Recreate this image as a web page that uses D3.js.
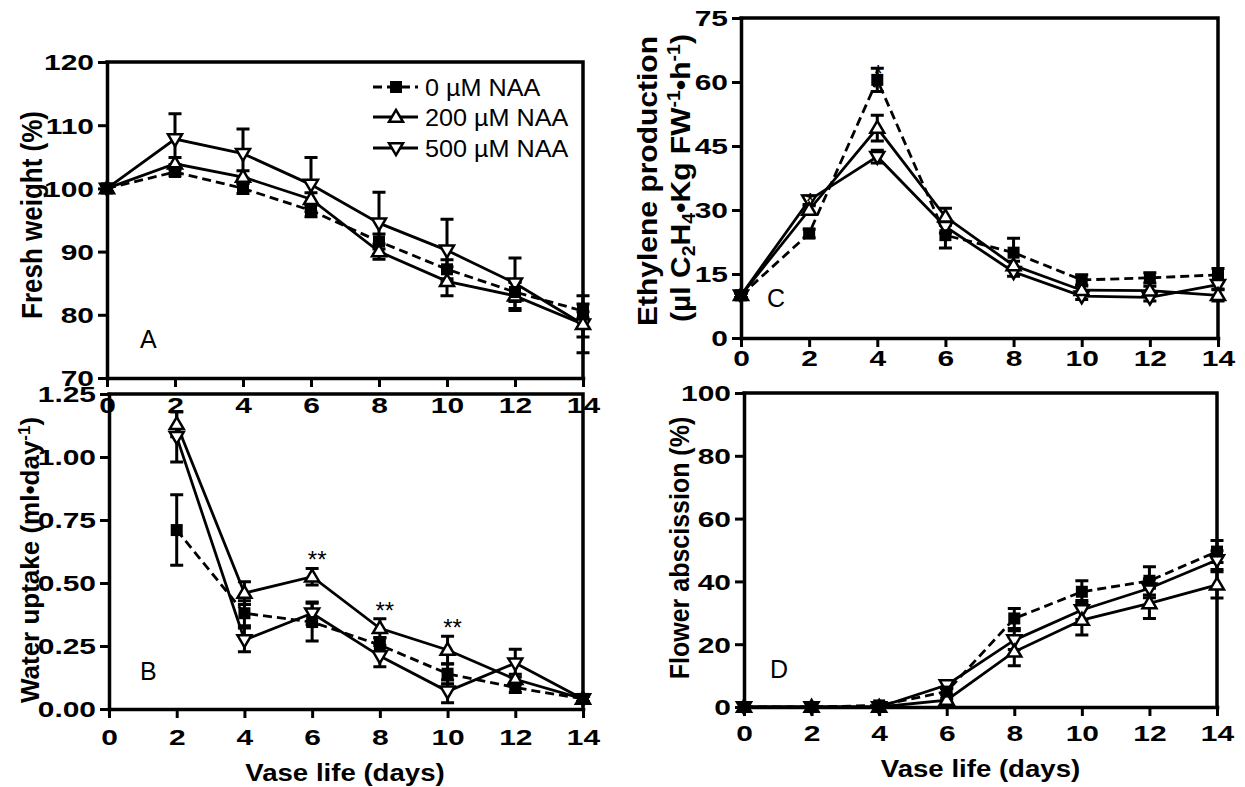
<!DOCTYPE html>
<html><head><meta charset="utf-8">
<script src="https://cdn.jsdelivr.net/npm/d3@7"></script>
<style>
body{margin:0;background:#fff;}
svg{display:block;}
</style></head><body>
<svg id="chart" width="1245" height="787"></svg>
<script>
// ---------- data ----------
const days = [0, 2, 4, 6, 8, 10, 12, 14];
const xTicks = [0, 2, 4, 6, 8, 10, 12, 14];
const seriesNames = ["0 \u00b5M NAA", "200 \u00b5M NAA", "500 \u00b5M NAA"];

// A: fresh weight (%)
const fw0 = [100, 102.6, 100, 96.5, 91.6, 87.2, 83.6, 80.6];
const fw0Err = [0.5, 0.6, 0.8, 1, 1.2, 1.5, 1.5, 1.1];
const fw200 = [100, 103.9, 101.8, 98.3, 90.0, 85.3, 83.0, 78.5];
const fw200Err = [0.5, 1, 1, 1, 1.2, 2.3, 2.3, 4.5];
const fw500 = [100, 107.8, 105.5, 100.6, 94.5, 90.2, 85.0, 78.5];
const fw500Err = [0.5, 4, 3.9, 4.3, 4.9, 4.9, 4.0, 2];
const fwTicks = [70, 80, 90, 100, 110, 120];

// B: water uptake (ml/day)
const wu0 = [null, 0.71, 0.38, 0.345, 0.254, 0.14, 0.085, 0.04];
const wu0Err = [null, 0.14, 0.05, 0.075, 0.03, 0.04, 0.02, 0.01];
const wu200 = [null, 1.13, 0.46, 0.525, 0.32, 0.234, 0.118, 0.04];
const wu200Err = [null, 0.05, 0.045, 0.033, 0.038, 0.055, 0.02, 0.01];
const wu500 = [null, 1.08, 0.274, 0.38, 0.21, 0.07, 0.182, 0.04];
const wu500Err = [null, 0.1, 0.047, 0.045, 0.042, 0.045, 0.055, 0.01];
const wuTicks = [0, 0.25, 0.5, 0.75, 1.0, 1.25];
const wuSigDays = [6, 8, 10];
const wuSigLabels = ["**", "**", "**"];

// C: ethylene production
const et0 = [10, 24.5, 60.5, 24.1, 20, 13.6, 14.1, 14.8];
const et0Err = [0.5, 1, 2.7, 3, 3.4, 1.2, 1.2, 1.5];
const et200 = [10, 30, 49.2, 28.4, 17, 11.2, 11.1, 10];
const et200Err = [0.5, 1, 3, 2, 1, 1, 1, 1.3];
const et500 = [10, 32.3, 42.5, 26.1, 15.5, 9.8, 9.5, 12.5];
const et500Err = [0.5, 1, 1.5, 1.5, 1, 0.8, 0.8, 1];
const etTicks = [0, 15, 30, 45, 60, 75];
const etSigDays = [2, 4];
const etSigLabels = ["*", "*"];

// D: flower abscission (%)
const ab0 = [0, 0, 0.5, 4.9, 28.2, 36.7, 40.2, 49.5];
const ab0Err = [0, 0, 0.5, 1, 3.2, 3.5, 4.5, 3.5];
const ab200 = [0, 0, 0, 2.2, 17.6, 27.7, 33, 38.9];
const ab200Err = [0, 0, 0, 0.5, 4.5, 4.8, 4.8, 4.2];
const ab500 = [0, 0, 0, 7, 21.3, 30.9, 37.8, 46.8];
const ab500Err = [0, 0, 0, 1, 3, 3, 3, 3];
const abTicks = [0, 20, 40, 60, 80, 100];

// ---------- drawing ----------
const FONT = "'Liberation Sans', Arial, Helvetica, sans-serif";
const svg = d3.select("#chart");

function trianglePath(up, r) {
  const h = r * 1.7;
  return up
    ? `M0,${-h * 0.6}L${r},${h * 0.4}L${-r},${h * 0.4}Z`
    : `M0,${h * 0.6}L${r},${-h * 0.4}L${-r},${-h * 0.4}Z`;
}

function panel(cfg) {
  const x = d3.scaleLinear().domain([0, 14]).range([cfg.x0, cfg.x1]);
  const y = d3.scaleLinear().domain(cfg.yDomain).range([cfg.yBot, cfg.yTop]);
  const g = svg.append("g");

  const ax = g.append("g").attr("transform", `translate(0,${cfg.yBot})`)
    .call(d3.axisBottom(x).tickValues(xTicks).tickSize(9).tickSizeOuter(0).tickFormat(d3.format("d")));
  const ay = g.append("g").attr("transform", `translate(${cfg.x0},0)`)
    .call(d3.axisLeft(y).tickValues(cfg.ticks).tickSize(9).tickSizeOuter(0).tickFormat(cfg.fmt));
  [ax, ay].forEach(a => {
    a.select(".domain").attr("stroke", "#000").attr("stroke-width", 3.5).attr("stroke-linecap", "square");
    a.selectAll(".tick line").attr("stroke", "#000").attr("stroke-width", 3);
    a.selectAll("text").attr("font-family", FONT).attr("font-weight", "bold")
      .attr("font-size", 22).attr("fill", "#000");
  });
  const sx = 1.36;
  ax.selectAll(".tick text").attr("dy", null).attr("y", cfg.xLabOff).attr("transform", `scale(${sx},1)`);
  ay.selectAll(".tick text").attr("dy", "0.36em").attr("x", -13 / sx).attr("transform", `scale(${sx},1)`);

  g.append("path").attr("d", `M${cfg.x0},${cfg.yTop}H${cfg.x1}V${cfg.yBot}`)
    .attr("fill", "none").attr("stroke", "#000").attr("stroke-width", 3.5).attr("stroke-linecap", "square");

  const series = cfg.series.map(s => ({
    ...s,
    pts: days.map((d, j) => ({ d, v: s.vals[j], e: s.errs[j] })).filter(p => p.v != null)
  }));
  const line = d3.line().x(p => x(p.d)).y(p => y(p.v));
  series.forEach(s => {
    g.append("path").attr("d", line(s.pts)).attr("fill", "none").attr("stroke", "#000")
      .attr("stroke-width", 2.8).attr("stroke-dasharray", s.dash ? "9,5" : null);
  });
  series.forEach(s => {
    s.pts.filter(p => p.e > 0).forEach(p => {
      const cx = x(p.d), y1 = y(p.v + p.e), y2 = y(p.v - p.e);
      g.append("path").attr("d", `M${cx},${y1}V${y2}M${cx - 6.5},${y1}H${cx + 6.5}M${cx - 6.5},${y2}H${cx + 6.5}`)
        .attr("fill", "none").attr("stroke", "#000").attr("stroke-width", 3);
    });
  });
  series.forEach(s => {
    s.pts.forEach(p => {
      const cx = x(p.d), cy = y(p.v);
      if (s.shape === "square") {
        g.append("rect").attr("x", cx - 6).attr("y", cy - 6).attr("width", 12).attr("height", 12).attr("fill", "#000");
      } else {
        g.append("path").attr("d", trianglePath(s.shape === "up", 7))
          .attr("transform", `translate(${cx},${cy})`)
          .attr("fill", "#fff").attr("stroke", "#000").attr("stroke-width", 2.5);
      }
    });
  });
  if (cfg.sigDays) {
    cfg.sigDays.forEach((d, k) => {
      const j = days.indexOf(d);
      const top = d3.max(series, s => s.vals[j] + s.errs[j]);
      g.append("text").attr("x", x(d) + cfg.sigDx).attr("y", y(top) + cfg.sigDy)
        .attr("text-anchor", "middle").attr("font-family", FONT).attr("font-size", 24)
        .text(cfg.sigLabels[k]);
    });
  }
  g.append("text").attr("x", cfg.letterX).attr("y", cfg.letterY).attr("font-family", FONT)
    .attr("font-size", 25).text(cfg.letter);
  cfg.yTitle.forEach(t => {
    const tt = g.append("text").attr("transform", `translate(${t.x},${t.y}) scale(${t.sx},1) rotate(-90)`)
      .attr("text-anchor", "middle").attr("font-family", FONT).attr("font-weight", "bold")
      .attr("font-size", t.fs);
    t.parts.forEach(pp => {
      const ts = tt.append("tspan").text(pp.t);
      if (pp.sub) ts.attr("baseline-shift", "-25%").attr("font-size", t.fs * 0.65);
      if (pp.sup) ts.attr("baseline-shift", "super").attr("font-size", t.fs * 0.65);
    });
  });
  if (cfg.xTitle) {
    g.append("text").attr("transform", `translate(${(cfg.x0 + cfg.x1) / 2 + cfg.xTitleDx},${cfg.xTitleY}) scale(1.15,1)`)
      .attr("text-anchor", "middle").attr("font-family", FONT).attr("font-weight", "bold")
      .attr("font-size", 24).text("Vase life (days)");
  }
  return { x, y, g };
}

const styleOf = [
  { shape: "square", dash: true },
  { shape: "up", dash: false },
  { shape: "down", dash: false }
];
function mk(vals0, e0, vals200, e200, vals500, e500) {
  return [
    { ...styleOf[2], vals: vals500, errs: e500 },
    { ...styleOf[1], vals: vals200, errs: e200 },
    { ...styleOf[0], vals: vals0, errs: e0 }
  ];
}

panel({
  x0: 107, x1: 583, yTop: 62, yBot: 378, yDomain: [70, 120], ticks: fwTicks, fmt: d3.format("d"),
  xLabOff: 35, series: mk(fw0, fw0Err, fw200, fw200Err, fw500, fw500Err),
  letter: "A", letterX: 140, letterY: 348,
  yTitle: [{ x: 42, y: 215, fs: 26, sx: 1.1, parts: [{ t: "Fresh weight (%)" }] }]
});
panel({
  x0: 109, x1: 583, yTop: 394, yBot: 709, yDomain: [0, 1.25], ticks: wuTicks, fmt: d3.format(".2f"),
  xLabOff: 36, series: mk(wu0, wu0Err, wu200, wu200Err, wu500, wu500Err),
  sigDays: wuSigDays, sigLabels: wuSigLabels, sigDx: 5, sigDy: 0,
  letter: "B", letterX: 140, letterY: 680,
  yTitle: [{ x: 39, y: 560, fs: 26, sx: 1.0, parts: [{ t: "Water uptake (ml\u2022day" }, { t: "-1", sup: true }, { t: ")" }] }],
  xTitle: true, xTitleY: 781, xTitleDx: -1
});
panel({
  x0: 741, x1: 1218, yTop: 18, yBot: 338, yDomain: [0, 75], ticks: etTicks, fmt: d3.format("d"),
  xLabOff: 28, series: mk(et0, et0Err, et200, et200Err, et500, et500Err),
  sigDays: etSigDays, sigLabels: etSigLabels, sigDx: 1, sigDy: 14,
  letter: "C", letterX: 767, letterY: 307,
  yTitle: [
    { x: 657, y: 181, fs: 30, sx: 0.95, parts: [{ t: "Ethylene production" }] },
    { x: 690, y: 178, fs: 30, sx: 0.95, parts: [{ t: "(\u00b5l C" }, { t: "2", sub: true }, { t: "H" }, { t: "4", sub: true },
      { t: "\u2022Kg FW" }, { t: "-1", sup: true }, { t: "\u2022h" }, { t: "-1", sup: true }, { t: ")" }] }
  ]
});
panel({
  x0: 744, x1: 1217, yTop: 393, yBot: 707, yDomain: [0, 100], ticks: abTicks, fmt: d3.format("d"),
  xLabOff: 34, series: mk(ab0, ab0Err, ab200, ab200Err, ab500, ab500Err),
  letter: "D", letterX: 770, letterY: 678,
  yTitle: [{ x: 689, y: 548, fs: 25, sx: 1.12, parts: [{ t: "Flower abscission (%)" }] }],
  xTitle: true, xTitleY: 777, xTitleDx: 0
});

// legend in panel A
const leg = svg.append("g");
const legRowsY = [87, 117, 148];
seriesNames.forEach((name, i) => {
  const st = styleOf[i];
  const yy = legRowsY[i];
  leg.append("line").attr("x1", 373).attr("x2", 418).attr("y1", yy).attr("y2", yy)
    .attr("stroke", "#000").attr("stroke-width", 2.8).attr("stroke-dasharray", st.dash ? "9,5" : null);
  if (st.shape === "square") {
    leg.append("rect").attr("x", 390).attr("y", yy - 6).attr("width", 12).attr("height", 12).attr("fill", "#000");
  } else {
    leg.append("path").attr("d", trianglePath(st.shape === "up", 7)).attr("transform", `translate(396,${yy})`)
      .attr("fill", "#fff").attr("stroke", "#000").attr("stroke-width", 2.5);
  }
  leg.append("text").attr("transform", `translate(425,${yy + 9}) scale(1.05,1)`)
    .attr("font-family", FONT).attr("font-size", 24).text(name);
});
</script>
</body></html>
